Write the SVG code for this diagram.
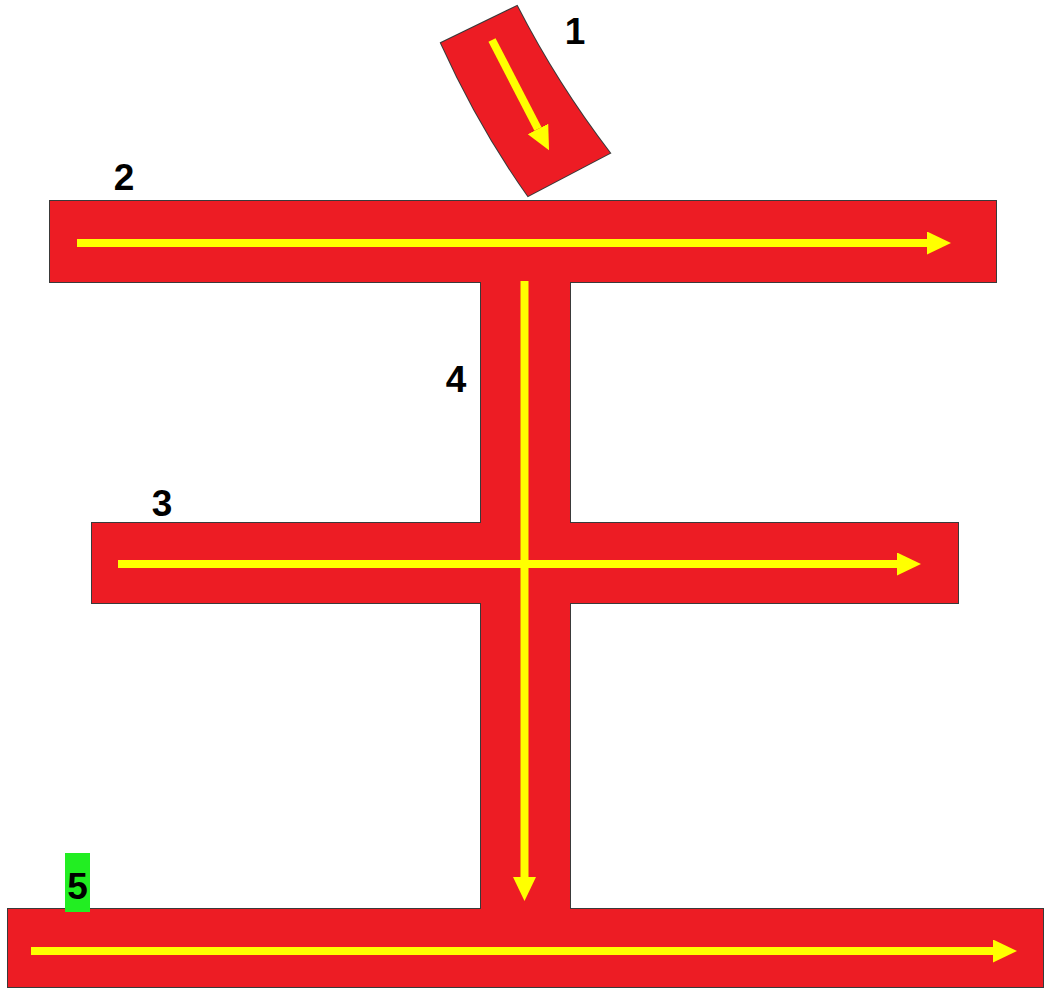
<svg xmlns="http://www.w3.org/2000/svg" width="1051" height="994" viewBox="0 0 1051 994">
<style>
.edge{fill:#444;stroke:#3a3a3a;stroke-width:2}
.road{fill:#ED1C24}
.arrow{stroke:#FFFF00;stroke-width:8;fill:none;marker-end:url(#head)}
.lbl{font-family:"Liberation Sans",Arial,sans-serif;font-weight:bold;font-size:37px;fill:#000;text-anchor:middle}
</style>
<defs>
<marker id="head" markerUnits="userSpaceOnUse" markerWidth="24" markerHeight="24" refX="0" refY="11.5" orient="auto">
<path d="M0,0 L24,11.5 L0,23 Z" fill="#FFFF00"/>
</marker>
</defs>
<rect width="1051" height="994" fill="#fff"/>
<g id="outline">
<path class="edge" d="M441,43 L517,6 Q557,84 610,153 L528,196 Q479,127 441,43 Z"/>
<rect class="edge" x="50" y="201" width="946" height="81"/>
<rect class="edge" x="481" y="270" width="89" height="650"/>
<rect class="edge" x="92" y="523" width="866" height="80"/>
<rect class="edge" x="8" y="909" width="1035" height="78"/>
</g>
<g id="node1">
<path class="road" d="M441,43 L517,6 Q557,84 610,153 L528,196 Q479,127 441,43 Z"/>
<text class="lbl" x="575" y="44">1</text>
</g>
<g id="node2">
<rect class="road" x="50" y="201" width="946" height="81"/>
<text class="lbl" x="124" y="190">2</text>
</g>
<g id="node4">
<rect class="road" x="481" y="270" width="89" height="650"/>
<text class="lbl" x="456" y="392">4</text>
</g>
<g id="node3">
<rect class="road" x="92" y="523" width="866" height="80"/>
<text class="lbl" x="162" y="516">3</text>
</g>
<g id="node5">
<rect class="road" x="8" y="909" width="1035" height="78"/>
<rect x="65" y="853" width="25" height="59" fill="#22EE22"/>
<text class="lbl" x="77.5" y="899">5</text>
</g>
<g id="connectors">
<line class="arrow" x1="492" y1="40" x2="538" y2="129"/>
<line class="arrow" x1="77" y1="243" x2="927" y2="243"/>
<line class="arrow" x1="118" y1="564" x2="897" y2="564"/>
<line class="arrow" x1="524.5" y1="281" x2="524.5" y2="877"/>
<line class="arrow" x1="31" y1="951" x2="993" y2="951"/>
</g>
</svg>
